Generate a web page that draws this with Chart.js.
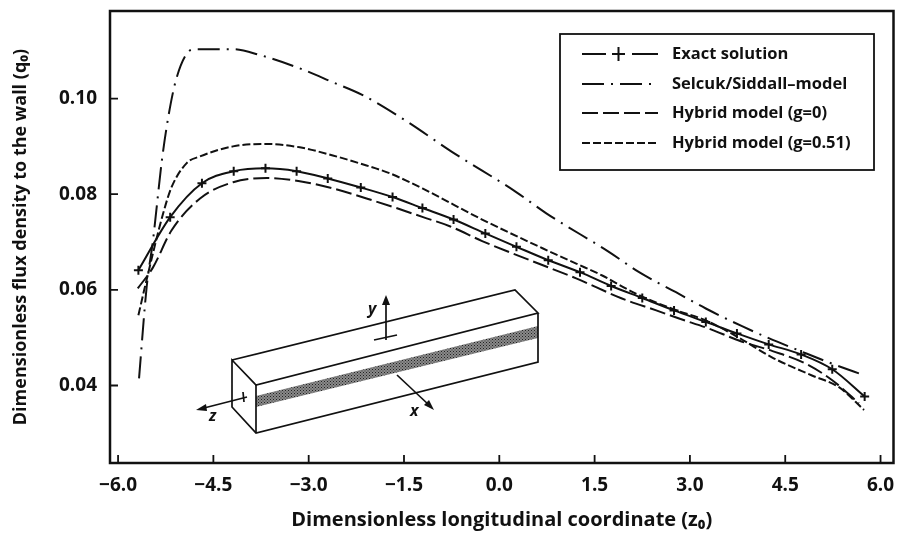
<!DOCTYPE html>
<html lang="en">
<head>
<meta charset="UTF-8">
<title>Flux density to the wall</title>
<style>
    body { margin: 0; background: #fff; }
    #wrap { position: relative; width: 900px; height: 536px; }
    canvas { display: block; }
    #inset { position: absolute; left: 0; top: 0; pointer-events: none; }
    #inset text { font: italic bold 16px "Open Sans", sans-serif; fill: #111; }
</style>
</head>
<body>
<div id="wrap">
    <canvas id="fluxChart" width="900" height="536"></canvas>
    <!-- Inset sketch of the channel -->
    <svg id="inset" width="900" height="536" viewBox="0 0 900 536">
        <defs>
            <pattern id="dots" width="3" height="3" patternUnits="userSpaceOnUse">
                <rect width="3" height="3" fill="#8a8a8a"/>
                <rect width="1" height="1" fill="#222"/>
                <rect x="1.5" y="1.5" width="1" height="1" fill="#333"/>
            </pattern>
        </defs>
        <polygon points="256,396 538,326 538,338 256,407" fill="url(#dots)"/>
        <g fill="none" stroke="#111" stroke-width="1.7">
            <polyline points="232,360 515,290 538,313 256,385 232,360 232,407 256,433 538,362 538,313"/>
            <line x1="256" y1="385" x2="256" y2="433"/>
            <line x1="386" y1="340" x2="386" y2="302"/>
            <line x1="374" y1="340" x2="397" y2="335"/>
            <line x1="247" y1="397" x2="204" y2="408"/>
            <line x1="243" y1="392" x2="244" y2="402"/>
            <line x1="397" y1="375" x2="430" y2="406"/>
        </g>
        <g fill="#111">
            <polygon points="386,295 382,305 390,305"/>
            <polygon points="196,410 206,404 207,411"/>
            <polygon points="434,410 424,405 429,400"/>
        </g>
        <text x="368" y="314">y</text>
        <text x="209" y="421">z</text>
        <text x="410" y="416">x</text>
    </svg>
</div>

<script src="https://cdn.jsdelivr.net/npm/chart.js"></script>
<script>
    const xTicks = [-6.0, -4.5, -3.0, -1.5, 0.0, 1.5, 3.0, 4.5, 6.0];
    const yTicks = [0.04, 0.06, 0.08, 0.10];

    const exactZ = [-5.68, -5.18, -4.68, -4.18, -3.68, -3.19, -2.7, -2.18, -1.68, -1.21, -0.72, -0.22,
                    0.27, 0.77, 1.27, 1.76, 2.25, 2.75, 3.25, 3.74, 4.24, 4.75, 5.24, 5.75];
    const exactFlux = [0.0641, 0.0752, 0.0823, 0.0848, 0.0854, 0.0848, 0.0833, 0.0814, 0.0794, 0.0771, 0.0747, 0.0718,
                       0.0690, 0.0662, 0.0637, 0.0608, 0.0583, 0.0557, 0.0533, 0.0509, 0.0486, 0.0465, 0.0434, 0.0377];

    const selcukZ = [-5.67, -5.55, -5.45, -5.31, -5.21, -5.09, -4.9, -4.79, -4.19, -3.77, -3.14, -2.62, -2.15, -1.49,
                     -0.74, 0.26, 0.74, 1.73, 2.2, 2.78, 3.25, 3.82, 4.24, 4.72, 5.23, 5.75];
    const selcukFlux = [0.0415, 0.0606, 0.0704, 0.0871, 0.0961, 0.1038, 0.1097, 0.1103, 0.1103, 0.1091, 0.1063, 0.1034, 0.1007, 0.0955,
                        0.0888, 0.0805, 0.0760, 0.0679, 0.0637, 0.0595, 0.0561, 0.0524, 0.0499, 0.0473, 0.0446, 0.0421];

    const hybrid0Z = [-5.69, -5.45, -5.16, -4.71, -4.19, -3.66, -3.14, -2.62, -2.09, -1.62, -1.2, -0.78, -0.27, 0.52, 1.21, 1.93, 2.47, 2.83, 3.3, 3.77, 4.3, 4.82, 5.24, 5.66];
    const hybrid0Flux = [0.0603, 0.0647, 0.0724, 0.0791, 0.0825, 0.0834, 0.0827, 0.0812, 0.0791, 0.0771, 0.0752, 0.0733, 0.0702, 0.0660, 0.0624, 0.0582, 0.0557, 0.0540, 0.0519, 0.0494, 0.0472, 0.0446, 0.0411, 0.0363];

    const hybrid51Z = [-5.68, -5.56, -5.29, -5.16, -4.92, -4.71, -4.19, -3.66, -3.14, -2.62, -2.09, -1.73, -1.21, -0.27, 0.68, 1.21, 1.62, 2.15, 2.75, 3.25, 3.77, 4.29, 4.92, 5.34, 5.74];
    const hybrid51Flux = [0.0547, 0.0616, 0.0760, 0.0814, 0.0865, 0.0879, 0.0900, 0.0905, 0.0898, 0.0881, 0.0860, 0.0844, 0.0812, 0.0747, 0.0687, 0.0655, 0.0630, 0.0592, 0.0559, 0.0536, 0.0500, 0.0459, 0.0421, 0.0397, 0.0349];

    const ink = '#111';
    const fontName = '"Open Sans", sans-serif';

    function toPoints(zs, vals) {
        return zs.map((z, i) => ({ x: z, y: vals[i] }));
    }

    function series(label, zs, vals, dash, marker) {
        return {
            label: label,
            data: toPoints(zs, vals),
            borderColor: ink,
            backgroundColor: ink,
            borderWidth: 2,
            borderDash: dash,
            cubicInterpolationMode: 'monotone',
            pointStyle: 'cross',
            pointRadius: marker ? 4.5 : 0,
            pointBorderWidth: 2,
            pointBorderColor: ink
        };
    }

    // frame, inward ticks and the boxed legend
    const framePlugin = {
        id: 'frame',
        afterDraw(chart) {
            const c = chart.ctx, a = chart.chartArea;
            c.save();
            c.strokeStyle = ink;
            c.lineWidth = 2.5;
            c.setLineDash([]);
            c.strokeRect(a.left, a.top, a.right - a.left, a.bottom - a.top);

            c.lineWidth = 1.8;
            c.beginPath();
            xTicks.forEach(v => {
                const px = chart.scales.x.getPixelForValue(v);
                c.moveTo(px, a.bottom);
                c.lineTo(px, a.bottom - 8);
            });
            yTicks.forEach(v => {
                const py = chart.scales.y.getPixelForValue(v);
                c.moveTo(a.left, py);
                c.lineTo(a.left + 8, py);
            });
            c.stroke();

            // legend
            c.fillStyle = '#fff';
            c.fillRect(560, 34, 314, 136);
            c.lineWidth = 1.8;
            c.strokeRect(560, 34, 314, 136);
            const rowY = [54, 84, 113, 143];
            chart.data.datasets.forEach((ds, i) => {
                const y = rowY[i];
                c.lineWidth = 2;
                c.setLineDash(ds.borderDash);
                c.beginPath();
                c.moveTo(582, y);
                c.lineTo(658, y);
                c.stroke();
                c.setLineDash([]);
                if (ds.pointRadius) {
                    c.fillStyle = '#fff';
                    c.fillRect(606, y - 2, 26, 4);
                    c.beginPath();
                    c.moveTo(612, y);
                    c.lineTo(625, y);
                    c.moveTo(618.5, y - 7);
                    c.lineTo(618.5, y + 7);
                    c.stroke();
                }
                c.fillStyle = ink;
                c.font = 'bold 16.5px ' + fontName;
                c.textBaseline = 'middle';
                c.textAlign = 'left';
                c.fillText(ds.label, 672, y);
            });
            c.restore();
        }
    };

    new Chart(document.getElementById('fluxChart').getContext('2d'), {
        type: 'scatter',
        data: {
            datasets: [
                series('Exact solution', exactZ, exactFlux, [], true),
                series('Selcuk/Siddall\u2013model', selcukZ, selcukFlux, [22, 7, 2, 7], false),
                series('Hybrid model (g=0)', hybrid0Z, hybrid0Flux, [16, 5], false),
                series('Hybrid model (g=0.51)', hybrid51Z, hybrid51Flux, [8, 3], false)
            ]
        },
        plugins: [framePlugin],
        options: {
            responsive: false,
            animation: false,
            showLine: true,
            layout: { padding: { left: 0, top: 11, right: 5, bottom: 0 } },
            plugins: { legend: { display: false }, tooltip: { enabled: false } },
            scales: {
                x: {
                    type: 'linear',
                    min: -6.127,
                    max: 6.204,
                    afterBuildTicks: s => { s.ticks = xTicks.map(v => ({ value: v })); },
                    afterFit: s => { s.height = 73; s.paddingLeft = 0; s.paddingRight = 0; },
                    border: { display: false },
                    grid: { display: false, drawTicks: false },
                    ticks: {
                        color: ink,
                        padding: 11,
                        maxRotation: 0,
                        font: { family: fontName, size: 19, weight: 'bold' },
                        callback: v => v.toFixed(1).replace('-', '\u2212')
                    },
                    title: {
                        display: true,
                        text: 'Dimensionless longitudinal coordinate (z\u2080)',
                        color: ink,
                        font: { family: fontName, size: 20, weight: 'bold' },
                        padding: { top: 0, bottom: 4 }
                    }
                },
                y: {
                    type: 'linear',
                    min: 0.0238,
                    max: 0.1183,
                    afterBuildTicks: s => { s.ticks = yTicks.map(v => ({ value: v })); },
                    afterFit: s => { s.width = 110; s.paddingTop = 0; s.paddingBottom = 0; },
                    border: { display: false },
                    grid: { display: false, drawTicks: false },
                    ticks: {
                        color: ink,
                        padding: 13,
                        font: { family: fontName, size: 19, weight: 'bold' },
                        callback: v => v.toFixed(2)
                    },
                    title: {
                        display: true,
                        text: 'Dimensionless flux density to the wall (q\u2080)',
                        color: ink,
                        font: { family: fontName, size: 18, weight: 'bold' },
                        padding: { top: 10, bottom: 0 }
                    }
                }
            }
        }
    });
</script>
</body>
</html>
